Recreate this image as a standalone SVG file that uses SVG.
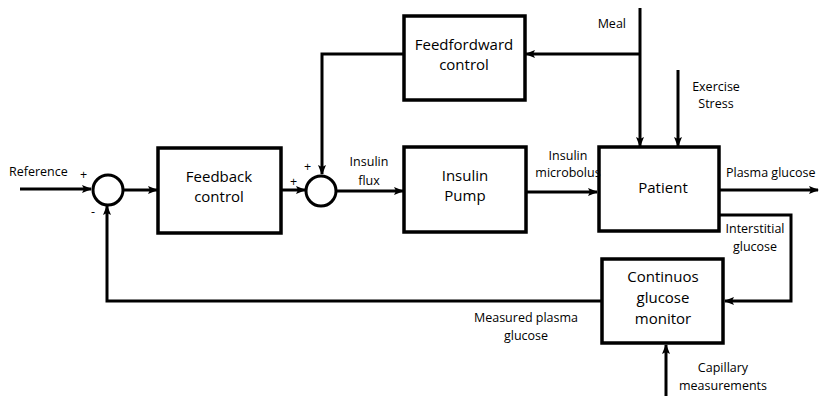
<svg xmlns="http://www.w3.org/2000/svg" width="819" height="396" viewBox="0 0 819 396">
<defs>
<marker id="ah" markerWidth="10" markerHeight="8" refX="9" refY="4" orient="auto" markerUnits="userSpaceOnUse">
<path d="M0,0 L10,4 L0,8 L2,4 Z" fill="#000"/>
</marker>
<style>
.box{fill:#fff;stroke:#000;stroke-width:3.5}
.ln{fill:none;stroke:#000;stroke-width:3}
.big{font-family:"Open Sans","DejaVu Sans",sans-serif;font-size:15px;text-anchor:middle;fill:#000}
.sm{font-family:"Open Sans","DejaVu Sans",sans-serif;font-size:12.5px;fill:#000}
.c{text-anchor:middle}
.e{text-anchor:end}
</style>
</defs>
<rect width="819" height="396" fill="#fff"/>
<g id="connectors">
<path class="ln" d="M20,189 H91" marker-end="url(#ah)"/>
<path class="ln" d="M123,190 H157" marker-end="url(#ah)"/>
<path class="ln" d="M281,190 H305" marker-end="url(#ah)"/>
<path class="ln" d="M404,54 H322 V174" marker-end="url(#ah)"/>
<path class="ln" d="M337,191 H403" marker-end="url(#ah)"/>
<path class="ln" d="M526,192 H597" marker-end="url(#ah)"/>
<path class="ln" d="M640,8 V146" marker-end="url(#ah)"/>
<path class="ln" d="M640,54 H526" marker-end="url(#ah)"/>
<path class="ln" d="M678,70 V146" marker-end="url(#ah)"/>
<path class="ln" d="M719,190 H818" marker-end="url(#ah)"/>
<path class="ln" d="M719,215 H791 V301 H725" marker-end="url(#ah)"/>
<path class="ln" d="M602,301 H107 V206" marker-end="url(#ah)"/>
<path class="ln" d="M666,396 V345" marker-end="url(#ah)"/>
</g>
<g id="sum1"><circle cx="108" cy="190" r="15" class="ln"/></g>
<g id="sum2"><circle cx="321" cy="191" r="15" class="ln"/></g>
<g id="feedback"><rect class="box" x="158" y="148" width="123" height="85"/>
<text class="big" x="219" y="182">Feedback</text><text class="big" x="219" y="202">control</text></g>
<g id="feedforward"><rect class="box" x="404" y="16" width="121" height="84"/>
<text class="big" x="464" y="50">Feedfordward</text><text class="big" x="464" y="70">control</text></g>
<g id="pump"><rect class="box" x="404" y="147" width="122" height="85"/>
<text class="big" x="465" y="181">Insulin</text><text class="big" x="465" y="201">Pump</text></g>
<g id="patient"><rect class="box" x="599" y="147" width="120" height="84"/>
<text class="big" x="663" y="193">Patient</text></g>
<g id="cgm"><rect class="box" x="602" y="259" width="121" height="84"/>
<text class="big" x="663" y="282">Continuos</text><text class="big" x="663" y="303">glucose</text><text class="big" x="663" y="324">monitor</text></g>
<g id="labels">
<text class="sm" x="9" y="176">Reference</text>
<text class="sm" x="80" y="179">+</text>
<text class="sm" x="91" y="216">-</text>
<text class="sm" x="290" y="186">+</text>
<text class="sm" x="304" y="171">+</text>
<text class="sm c" x="369" y="166">Insulin</text>
<text class="sm c" x="369" y="185">flux</text>
<text class="sm c" x="568" y="160">Insulin</text>
<text class="sm c" x="568" y="177">microbolus</text>
<text class="sm e" x="626" y="28">Meal</text>
<text class="sm c" x="716" y="91">Exercise</text>
<text class="sm c" x="716" y="108">Stress</text>
<text class="sm" x="726" y="177">Plasma glucose</text>
<text class="sm c" x="755" y="233">Interstitial</text>
<text class="sm c" x="755" y="251">glucose</text>
<text class="sm c" x="526" y="322">Measured plasma</text>
<text class="sm c" x="526" y="340">glucose</text>
<text class="sm c" x="723" y="372">Capillary</text>
<text class="sm c" x="723" y="390">measurements</text>
</g>
</svg>
